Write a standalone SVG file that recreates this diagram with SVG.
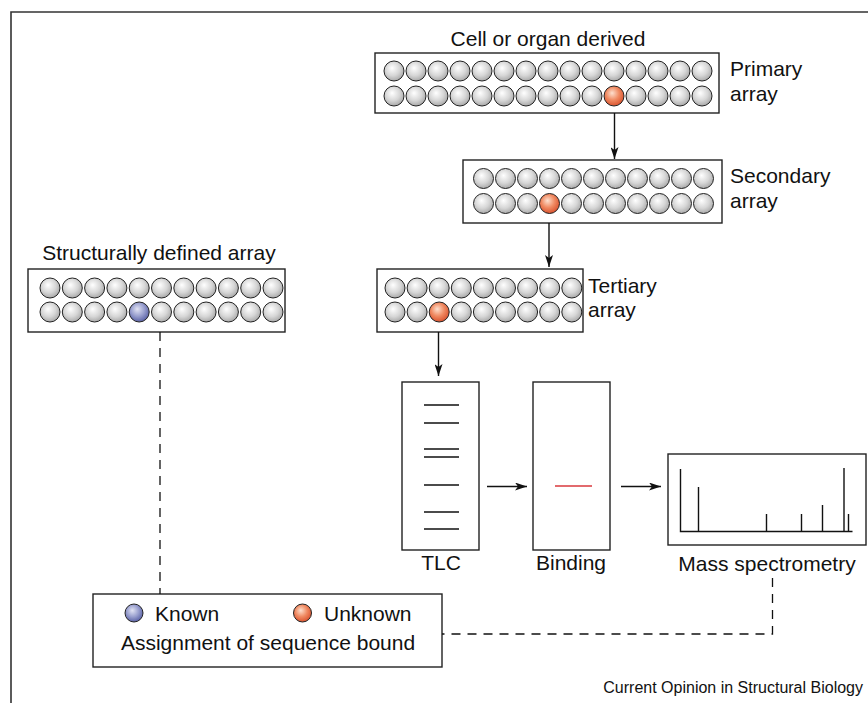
<svg xmlns="http://www.w3.org/2000/svg" width="868" height="703" viewBox="0 0 868 703">
<defs>
<radialGradient id="gGray" cx="0.45" cy="0.4" r="0.6" fx="0.4" fy="0.35">
<stop offset="0" stop-color="#ffffff"/>
<stop offset="0.6" stop-color="#d6d6d6"/>
<stop offset="1" stop-color="#a9a9a9"/>
</radialGradient>
<radialGradient id="gRed" cx="0.45" cy="0.4" r="0.6" fx="0.4" fy="0.35">
<stop offset="0" stop-color="#fde0cf"/>
<stop offset="0.55" stop-color="#f08a62"/>
<stop offset="1" stop-color="#d9532f"/>
</radialGradient>
<radialGradient id="gBlue" cx="0.45" cy="0.4" r="0.6" fx="0.4" fy="0.35">
<stop offset="0" stop-color="#e2e4f4"/>
<stop offset="0.55" stop-color="#9aa0cf"/>
<stop offset="1" stop-color="#5a62a6"/>
</radialGradient>
<marker id="ah" viewBox="0 0 12 8" refX="12" refY="4" markerWidth="12" markerHeight="8" markerUnits="userSpaceOnUse" orient="auto">
<path d="M0,0 L12,4 L0,8 L3,4 Z" fill="#111"/>
</marker>
</defs>
<style>
text{font-family:"Liberation Sans",Arial,sans-serif;font-size:21px;fill:#111}
.box{fill:#fff;stroke:#222;stroke-width:1.4}
.c{fill:url(#gGray);stroke:#222;stroke-width:1}
.r{fill:url(#gRed);stroke:#222;stroke-width:1}
.b{fill:url(#gBlue);stroke:#222;stroke-width:1}
.ln{stroke:#111;stroke-width:1.4;fill:none}
.arrow{stroke:#111;stroke-width:1.4;fill:none;marker-end:url(#ah)}
.dash{stroke:#111;stroke-width:1.3;fill:none;stroke-dasharray:9,7}
</style>
<rect width="868" height="703" fill="#fff"/>
<path d="M11,703 L11,12 L868,12" fill="none" stroke="#333" stroke-width="1.6"/>

<g id="primary">
<text x="548" y="46" text-anchor="middle">Cell or organ derived</text>
<rect class="box" x="375" y="53" width="344" height="60"/>
<circle class="c" cx="394" cy="71" r="10"/><circle class="c" cx="416" cy="71" r="10"/><circle class="c" cx="438" cy="71" r="10"/><circle class="c" cx="460" cy="71" r="10"/><circle class="c" cx="482" cy="71" r="10"/><circle class="c" cx="504" cy="71" r="10"/><circle class="c" cx="526" cy="71" r="10"/><circle class="c" cx="548" cy="71" r="10"/><circle class="c" cx="570" cy="71" r="10"/><circle class="c" cx="592" cy="71" r="10"/><circle class="c" cx="614" cy="71" r="10"/><circle class="c" cx="636" cy="71" r="10"/><circle class="c" cx="658" cy="71" r="10"/><circle class="c" cx="680" cy="71" r="10"/><circle class="c" cx="702" cy="71" r="10"/>
<circle class="c" cx="394" cy="96" r="10"/><circle class="c" cx="416" cy="96" r="10"/><circle class="c" cx="438" cy="96" r="10"/><circle class="c" cx="460" cy="96" r="10"/><circle class="c" cx="482" cy="96" r="10"/><circle class="c" cx="504" cy="96" r="10"/><circle class="c" cx="526" cy="96" r="10"/><circle class="c" cx="548" cy="96" r="10"/><circle class="c" cx="570" cy="96" r="10"/><circle class="c" cx="592" cy="96" r="10"/><circle class="r" cx="614" cy="96" r="10"/><circle class="c" cx="636" cy="96" r="10"/><circle class="c" cx="658" cy="96" r="10"/><circle class="c" cx="680" cy="96" r="10"/><circle class="c" cx="702" cy="96" r="10"/>
<text x="730" y="76">Primary</text>
<text x="730" y="101">array</text>
</g>

<g id="secondary">
<rect class="box" x="463" y="160" width="259" height="63"/>
<circle class="c" cx="483.5" cy="178.5" r="10"/><circle class="c" cx="505.5" cy="178.5" r="10"/><circle class="c" cx="527.5" cy="178.5" r="10"/><circle class="c" cx="549.5" cy="178.5" r="10"/><circle class="c" cx="571.5" cy="178.5" r="10"/><circle class="c" cx="593.5" cy="178.5" r="10"/><circle class="c" cx="615.5" cy="178.5" r="10"/><circle class="c" cx="637.5" cy="178.5" r="10"/><circle class="c" cx="659.5" cy="178.5" r="10"/><circle class="c" cx="681.5" cy="178.5" r="10"/><circle class="c" cx="703.5" cy="178.5" r="10"/>
<circle class="c" cx="483.5" cy="203.5" r="10"/><circle class="c" cx="505.5" cy="203.5" r="10"/><circle class="c" cx="527.5" cy="203.5" r="10"/><circle class="r" cx="549.5" cy="203.5" r="10"/><circle class="c" cx="571.5" cy="203.5" r="10"/><circle class="c" cx="593.5" cy="203.5" r="10"/><circle class="c" cx="615.5" cy="203.5" r="10"/><circle class="c" cx="637.5" cy="203.5" r="10"/><circle class="c" cx="659.5" cy="203.5" r="10"/><circle class="c" cx="681.5" cy="203.5" r="10"/><circle class="c" cx="703.5" cy="203.5" r="10"/>
<text x="730" y="183">Secondary</text>
<text x="730" y="208">array</text>
</g>

<g id="tertiary">
<rect class="box" x="377" y="269" width="206" height="63"/>
<circle class="c" cx="395" cy="288" r="10"/><circle class="c" cx="417.1" cy="288" r="10"/><circle class="c" cx="439.2" cy="288" r="10"/><circle class="c" cx="461.3" cy="288" r="10"/><circle class="c" cx="483.4" cy="288" r="10"/><circle class="c" cx="505.5" cy="288" r="10"/><circle class="c" cx="527.6" cy="288" r="10"/><circle class="c" cx="549.7" cy="288" r="10"/><circle class="c" cx="571.8" cy="288" r="10"/>
<circle class="c" cx="395" cy="312" r="10"/><circle class="c" cx="417.1" cy="312" r="10"/><circle class="r" cx="439.2" cy="312" r="10"/><circle class="c" cx="461.3" cy="312" r="10"/><circle class="c" cx="483.4" cy="312" r="10"/><circle class="c" cx="505.5" cy="312" r="10"/><circle class="c" cx="527.6" cy="312" r="10"/><circle class="c" cx="549.7" cy="312" r="10"/><circle class="c" cx="571.8" cy="312" r="10"/>
<text x="588" y="293">Tertiary</text>
<text x="588" y="317">array</text>
</g>

<g id="structural">
<text x="159" y="260" text-anchor="middle">Structurally defined array</text>
<rect class="box" x="28" y="269" width="257" height="63"/>
<circle class="c" cx="50" cy="288" r="10"/><circle class="c" cx="72.3" cy="288" r="10"/><circle class="c" cx="94.6" cy="288" r="10"/><circle class="c" cx="116.9" cy="288" r="10"/><circle class="c" cx="139.2" cy="288" r="10"/><circle class="c" cx="161.5" cy="288" r="10"/><circle class="c" cx="183.8" cy="288" r="10"/><circle class="c" cx="206.1" cy="288" r="10"/><circle class="c" cx="228.4" cy="288" r="10"/><circle class="c" cx="250.7" cy="288" r="10"/><circle class="c" cx="273" cy="288" r="10"/>
<circle class="c" cx="50" cy="312" r="10"/><circle class="c" cx="72.3" cy="312" r="10"/><circle class="c" cx="94.6" cy="312" r="10"/><circle class="c" cx="116.9" cy="312" r="10"/><circle class="b" cx="139.2" cy="312" r="10"/><circle class="c" cx="161.5" cy="312" r="10"/><circle class="c" cx="183.8" cy="312" r="10"/><circle class="c" cx="206.1" cy="312" r="10"/><circle class="c" cx="228.4" cy="312" r="10"/><circle class="c" cx="250.7" cy="312" r="10"/><circle class="c" cx="273" cy="312" r="10"/>
</g>

<g id="tlc">
<rect class="box" x="402" y="382" width="77" height="168"/>
<path class="ln" d="M424,405H459M424,423H459M424,449H459M424,457H459M424,485H459M424,512H459M424,529H459"/>
<text x="441" y="570" text-anchor="middle">TLC</text>
</g>

<g id="binding">
<rect class="box" x="533" y="382" width="77" height="168"/>
<path d="M555,486H592" stroke="#d8383c" stroke-width="1.4"/>
<text x="571" y="570" text-anchor="middle">Binding</text>
</g>

<g id="mass-spec">
<rect class="box" x="668" y="454" width="198" height="91"/>
<path class="ln" d="M680.5,469V531.5H852.5M698.5,531.5V487M766.5,531.5V514M801.5,531.5V514M822.5,531.5V505M844,531.5V468M848.5,531.5V514"/>
<text x="767" y="571" text-anchor="middle">Mass spectrometry</text>
</g>

<g id="legend">
<rect class="box" x="93" y="594" width="349" height="73"/>
<circle class="b" cx="134" cy="613" r="9"/>
<text x="155" y="621">Known</text>
<circle class="r" cx="302.5" cy="613" r="9"/>
<text x="324" y="621">Unknown</text>
<text x="268" y="650" text-anchor="middle">Assignment of sequence bound</text>
</g>

<g id="connectors">
<path class="arrow" d="M614.5,113V159"/>
<path class="arrow" d="M549,223V267"/>
<path class="arrow" d="M438.5,332V376"/>
<path class="arrow" d="M487,486.5H527"/>
<path class="arrow" d="M621,486.5H661"/>
<path class="dash" d="M160,332V594"/>
<path class="dash" d="M772.5,578V634H442"/>
</g>

<text x="863" y="693" text-anchor="end" style="font-size:16px">Current Opinion in Structural Biology</text>
</svg>
